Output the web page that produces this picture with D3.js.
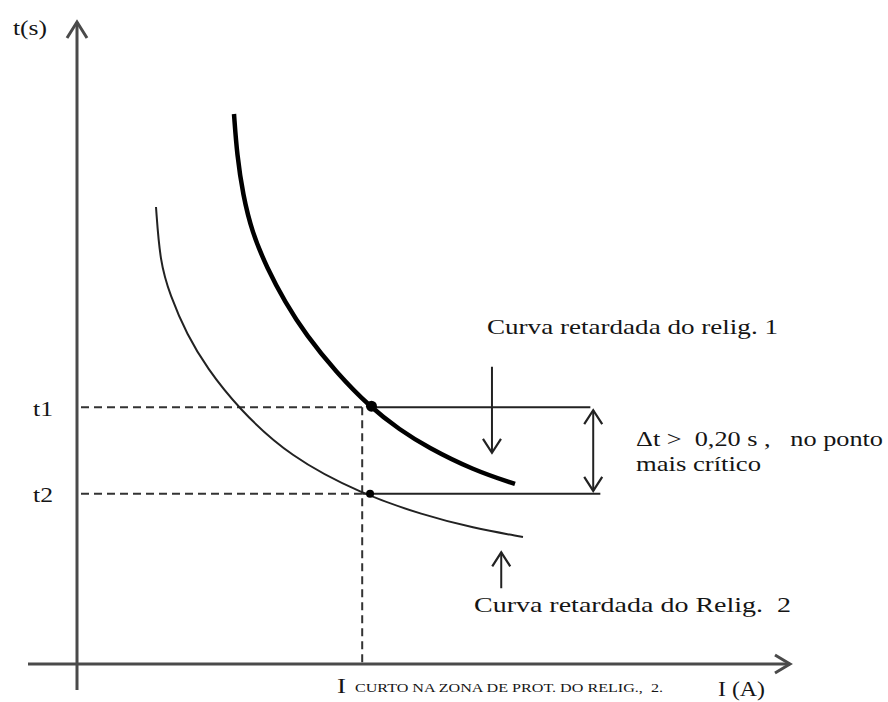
<!DOCTYPE html>
<html>
<head>
<meta charset="utf-8">
<script src="https://cdn.jsdelivr.net/npm/d3@7"></script>
<style>
  html, body { margin: 0; padding: 0; background: #fff; }
  svg text { font-family: "Liberation Serif", "Times New Roman", serif; fill: #151515; white-space: pre; }
</style>
</head>
<body>
<svg id="chart" width="888" height="702"></svg>
<script>
// Time-current curves of two reclosers (schematic units, 0-100 on each axis)
const curveRelig1 = [
  [22.02, 85.67], [22.44, 79.28], [23.28, 73.05], [24.54, 67.29], [26.65, 61.68],
  [29.17, 56.39], [32.12, 51.25], [36.33, 45.48], [41.09, 40.03], [45.30, 36.45],
  [49.09, 33.80], [55.54, 30.22], [61.43, 28.04]
];
const curveRelig2 = [
  [11.08, 71.18], [11.64, 62.62], [13.04, 57.48], [15.43, 51.25], [18.23, 46.11],
  [22.58, 39.88], [29.87, 32.24], [39.97, 26.48], [48.53, 23.21], [55.54, 21.18],
  [62.55, 19.78]
];
// Coordination point: short-circuit current and operating times
const iCurto = 40.0;
const t1 = 40.0;
const t2 = 26.5;
const t1CurveI = 41.3;
const t2CurveI = 41.1;
const refLineEnds = [72.0, 73.4];      // right ends of the t1 / t2 reference lines
const deltaArrowI = 72.4;              // position of the Δt double arrow
const arrowRelig1 = { i: 58.2, from: 46.3, to: 32.9 };
const arrowRelig2 = { i: 59.5, from: 11.8, to: 17.4 };

const svg = d3.select("#chart");
const x = d3.scaleLinear().domain([0, 100]).range([77, 790]);
const y = d3.scaleLinear().domain([0, 100]).range([664, 22]);

const axisColor = "#4a4a4a";

// axes
svg.append("line").attr("x1", 28).attr("x2", x(100)).attr("y1", y(0)).attr("y2", y(0))
  .attr("stroke", axisColor).attr("stroke-width", 3);
svg.append("line").attr("x1", x(0)).attr("x2", x(0)).attr("y1", 690).attr("y2", y(100))
  .attr("stroke", axisColor).attr("stroke-width", 3);
// open arrowheads
svg.append("path")
  .attr("d", `M${x(100) - 15},${y(0) - 9} L${x(100)},${y(0)} L${x(100) - 15},${y(0) + 9}`)
  .attr("fill", "none").attr("stroke", axisColor).attr("stroke-width", 3);
svg.append("path")
  .attr("d", `M${x(0) - 10},${y(100) + 16} L${x(0)},${y(100)} L${x(0) + 10},${y(100) + 16}`)
  .attr("fill", "none").attr("stroke", axisColor).attr("stroke-width", 3);

// dashed projections
const dash = "8,5";
svg.append("line").attr("x1", x(0) + 4).attr("x2", x(iCurto)).attr("y1", y(t1)).attr("y2", y(t1))
  .attr("stroke", "#333").attr("stroke-width", 2).attr("stroke-dasharray", dash);
svg.append("line").attr("x1", x(0) + 4).attr("x2", x(iCurto)).attr("y1", y(t2)).attr("y2", y(t2))
  .attr("stroke", "#333").attr("stroke-width", 2).attr("stroke-dasharray", dash);
svg.append("line").attr("x1", x(iCurto)).attr("x2", x(iCurto)).attr("y1", y(t1)).attr("y2", y(0))
  .attr("stroke", "#333").attr("stroke-width", 2).attr("stroke-dasharray", dash);

// solid reference lines
svg.append("line").attr("x1", x(t1CurveI)).attr("x2", x(refLineEnds[0])).attr("y1", y(t1)).attr("y2", y(t1))
  .attr("stroke", "#222").attr("stroke-width", 2);
svg.append("line").attr("x1", x(iCurto)).attr("x2", x(refLineEnds[1])).attr("y1", y(t2)).attr("y2", y(t2))
  .attr("stroke", "#222").attr("stroke-width", 2);

// curves
const line = d3.line().x(d => x(d[0])).y(d => y(d[1])).curve(d3.curveBasis);
svg.append("path").datum(curveRelig2).attr("d", line)
  .attr("fill", "none").attr("stroke", "#222").attr("stroke-width", 2);
svg.append("path").datum(curveRelig1).attr("d", line)
  .attr("fill", "none").attr("stroke", "#000").attr("stroke-width", 4.5);

// operating points
svg.append("circle").attr("cx", x(t1CurveI)).attr("cy", y(t1) - 1).attr("r", 5.5).attr("fill", "#000");
svg.append("circle").attr("cx", x(t2CurveI)).attr("cy", y(t2)).attr("r", 4).attr("fill", "#000");

// arrows
function arrowLine(x1, y1, x2, y2, heads) {
  svg.append("line").attr("x1", x1).attr("x2", x2).attr("y1", y1).attr("y2", y2)
    .attr("stroke", "#222").attr("stroke-width", 2);
  heads.forEach(([hx, hy, dir]) => {
    svg.append("path")
      .attr("d", `M${hx - 9},${hy - dir * 14} L${hx},${hy} L${hx + 9},${hy - dir * 14}`)
      .attr("fill", "none").attr("stroke", "#222").attr("stroke-width", 2.2);
  });
}
arrowLine(x(arrowRelig1.i), y(arrowRelig1.from), x(arrowRelig1.i), y(arrowRelig1.to),
  [[x(arrowRelig1.i), y(arrowRelig1.to), 1]]);
arrowLine(x(deltaArrowI), y(t1) + 3, x(deltaArrowI), y(t2) - 3,
  [[x(deltaArrowI), y(t1) + 3, -1], [x(deltaArrowI), y(t2) - 3, 1]]);
arrowLine(x(arrowRelig2.i), y(arrowRelig2.from), x(arrowRelig2.i), y(arrowRelig2.to),
  [[x(arrowRelig2.i), y(arrowRelig2.to), -1]]);

// labels (the typeset text is set a little wide, so each line gets its own length)
const label = (tx, ty, s, size, len) =>
  svg.append("text").attr("x", tx).attr("y", ty).attr("font-size", size)
    .attr("textLength", len).attr("lengthAdjust", "spacingAndGlyphs").text(s);
label(13, 35, "t(s)", 22, 34);
label(33, 416, "t1", 22, 20);
label(33, 502, "t2", 22, 20);
label(487, 334, "Curva retardada do relig. 1", 21, 291);
label(636, 446, "\u0394t >  0,20 s ,   no ponto", 21, 247);
label(636, 471, "mais cr\u00edtico", 21, 125);
label(474, 612, "Curva retardada do Relig.  2", 21, 317);
label(337, 693, "I", 22, 9);
label(355, 692, "CURTO NA ZONA DE PROT. DO RELIG.,  2.", 12, 308);
label(718, 696, "I (A)", 21, 47);
</script>
</body>
</html>
